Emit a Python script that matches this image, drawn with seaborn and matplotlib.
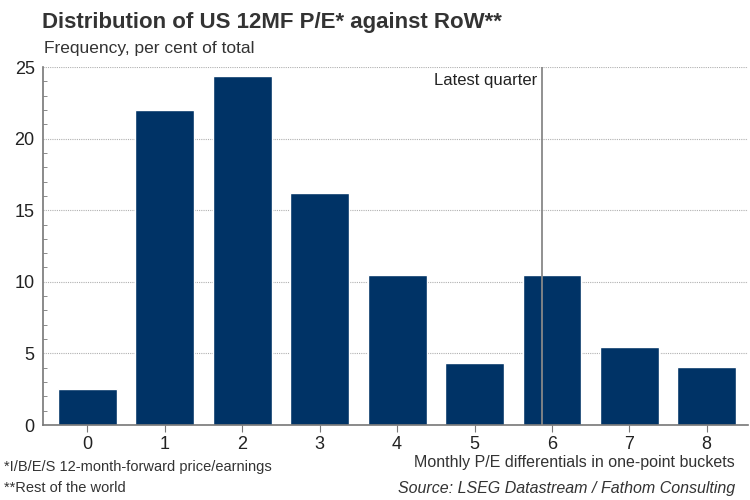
import numpy as np
import pandas as pd
import seaborn as sns
import matplotlib.pyplot as plt
from matplotlib.ticker import MultipleLocator

# data
buckets = ["0", "1", "2", "3", "4", "5", "6", "7", "8"]
frequency = [2.5, 22.0, 24.4, 16.2, 10.5, 4.3, 10.5, 5.45, 4.05]
latest_quarter = 5.87

BAR_COLOUR = "#003366"
TEXT_COLOUR = "#222222"


def main():
    sns.set_style("white")
    plt.rcParams["font.family"] = ["Liberation Sans", "DejaVu Sans"]

    df = pd.DataFrame({"bucket": buckets, "freq": frequency})

    fig = plt.figure(figsize=(7.5, 5), dpi=100)
    ax = fig.add_axes([0.0573, 0.15, 0.9397, 0.716])

    sns.barplot(data=df, x="bucket", y="freq", color=BAR_COLOUR,
                saturation=1, width=0.76, ax=ax)

    ax.set_xlim(-0.575, 8.53)
    ax.set_ylim(0, 25)
    ax.yaxis.set_major_locator(MultipleLocator(5))
    ax.yaxis.set_minor_locator(MultipleLocator(1))
    ax.grid(axis="y", which="major", linestyle=(0, (1, 1)), color="#b0b0b0",
            linewidth=0.8)
    ax.set_axisbelow(True)

    for side in ["top", "right"]:
        ax.spines[side].set_visible(False)
    for side in ["left", "bottom"]:
        ax.spines[side].set_color("#777777")
        ax.spines[side].set_linewidth(1.2)

    ax.tick_params(axis="y", which="major", direction="out", length=4,
                   color="#777777", labelsize=13, labelcolor=TEXT_COLOUR, pad=2)
    ax.tick_params(axis="y", which="minor", direction="in", length=3,
                   color="#777777", left=True)
    ax.tick_params(axis="x", direction="out", length=5, color="#777777",
                   labelsize=13, labelcolor=TEXT_COLOUR, pad=3, bottom=True)
    ax.set_xlabel("")
    ax.set_ylabel("")

    # latest quarter marker
    ax.axvline(latest_quarter, color="#888888", linewidth=1.3, zorder=3)
    ax.text(latest_quarter - 0.06, 24.6, "Latest quarter", ha="right",
            va="top", fontsize=12, color=TEXT_COLOUR)

    # titles and notes
    fig.text(0.056, 0.944, "Distribution of US 12MF P/E* against RoW**",
             fontsize=16, fontweight="bold", color="#333333", va="baseline")
    fig.text(0.058, 0.893, "Frequency, per cent of total", fontsize=12.5,
             color="#333333", va="baseline")
    fig.text(0.98, 0.066, "Monthly P/E differentials in one-point buckets",
             ha="right", fontsize=11.5, color="#333333", va="baseline")
    fig.text(0.98, 0.014, "Source: LSEG Datastream / Fathom Consulting",
             ha="right", fontsize=11.5, style="italic", color="#333333",
             va="baseline")
    fig.text(0.006, 0.058, "*I/B/E/S 12-month-forward price/earnings",
             fontsize=10.5, color="#333333", va="baseline")
    fig.text(0.006, 0.016, "**Rest of the world", fontsize=10.5,
             color="#333333", va="baseline")

    fig.savefig("out.png", dpi=100)


if __name__ == "__main__":
    main()
